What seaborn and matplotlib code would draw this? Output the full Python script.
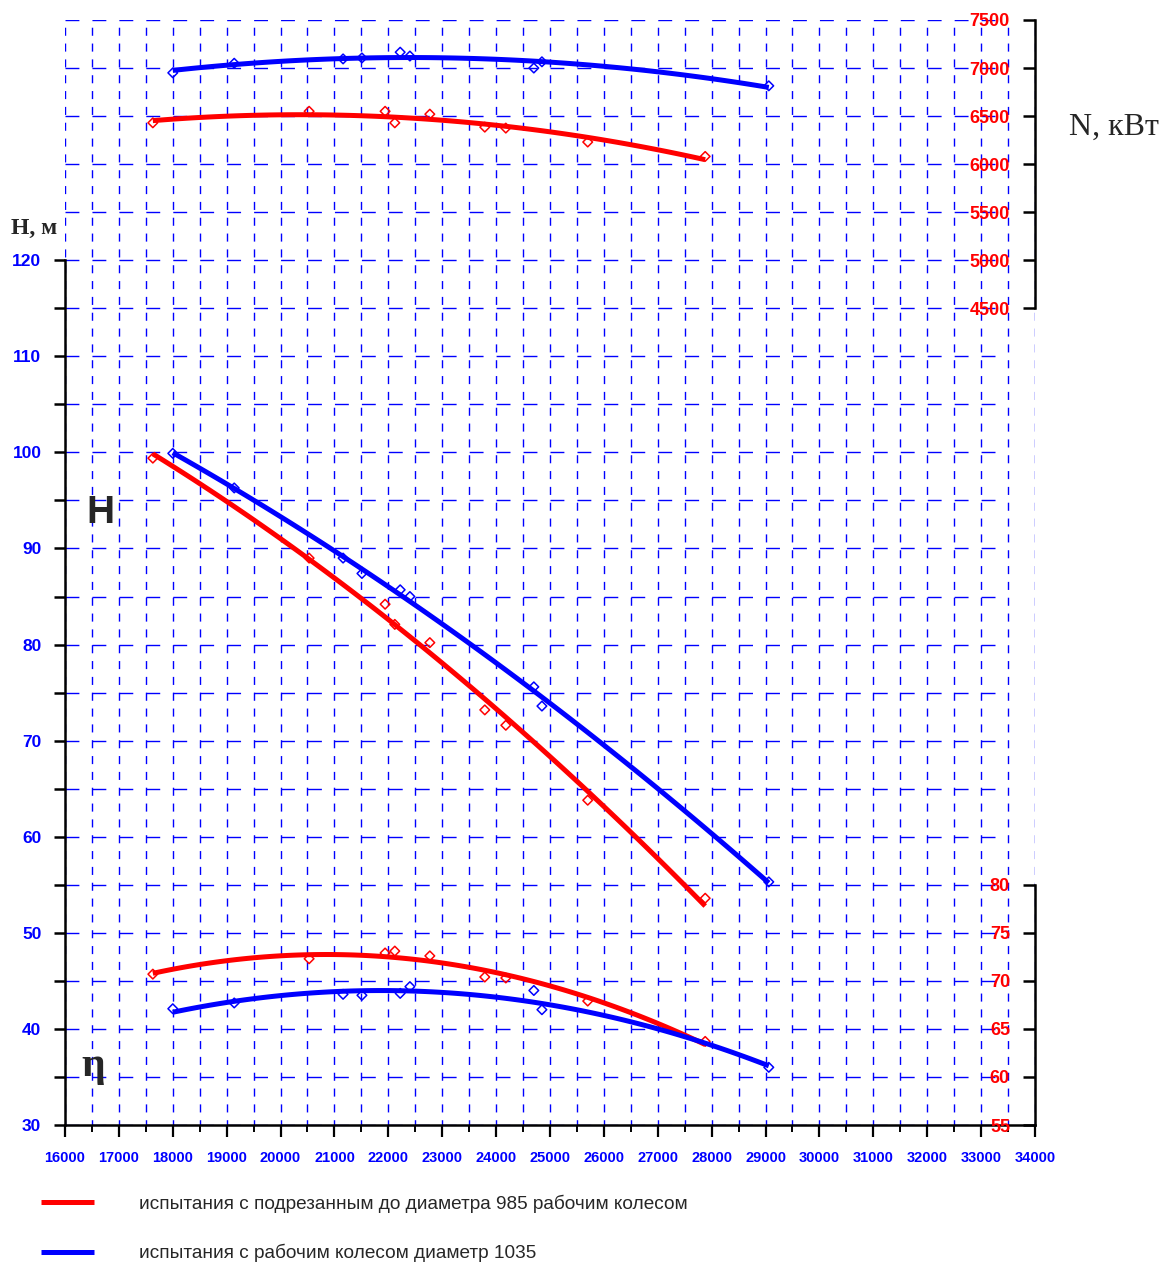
import numpy as np
import pandas as pd
import matplotlib
matplotlib.use("Agg")
import matplotlib.pyplot as plt
import seaborn as sns
from matplotlib.ticker import MultipleLocator

# ---------------- data ----------------
q_985 = [17630, 20530, 21940, 22120, 22770, 23790, 24180, 25700, 27880]
h_985 = [99.4, 89.0, 84.2, 82.1, 80.2, 73.2, 71.6, 63.8, 53.6]
n_985 = [6430, 6550, 6550, 6430, 6520, 6385, 6375, 6230, 6080]
eta_985 = [70.7, 72.3, 72.9, 73.1, 72.6, 70.4, 70.3, 67.9, 63.7]

q_1035 = [18000, 19140, 21160, 21510, 22220, 22400, 24700, 24850, 29060]
h_1035 = [99.9, 96.3, 89.0, 87.4, 85.7, 85.0, 75.6, 73.6, 55.3]
n_1035 = [6950, 7050, 7095, 7105, 7165, 7125, 7000, 7065, 6815]
eta_1035 = [67.1, 67.7, 68.6, 68.5, 68.7, 69.4, 69.0, 67.0, 61.0]

x_ticks = list(range(16000, 34001, 1000))
h_ticks = list(range(30, 121, 10))
n_ticks = list(range(4500, 7501, 500))
eta_ticks = list(range(55, 81, 5))

label_985 = "испытания с подрезанным до диаметра 985 рабочим колесом"
label_1035 = "испытания с рабочим колесом диаметр 1035"

# ---------------- style ----------------
sns.set_style("white")
plt.rcParams["font.family"] = ["Liberation Sans", "DejaVu Sans"]
plt.rcParams["lines.scale_dashes"] = False

W, H = 1163, 1265
fig = plt.figure(figsize=(W / 100, H / 100), dpi=100)
rect = [65 / W, 1 - 1125 / H, 970 / W, 1105 / H]

XLIM = (16000, 34000)
YLIM = (30, 145)

# background grid: vertical lines (full width)
ax_bgx = fig.add_axes(rect)
ax_bgx.set_xlim(*XLIM)
ax_bgx.set_ylim(*YLIM)
ax_bgx.xaxis.set_major_locator(MultipleLocator(500))
ax_bgx.tick_params(length=0, labelleft=False, labelbottom=False)
for s in ax_bgx.spines.values():
    s.set_visible(False)
ax_bgx.grid(axis="x", color="blue", lw=1.0, linestyle=(2, (5.8, 5.6)))

# background grid: horizontal lines (end at 33500)
HX = (16000, 33500)
rect_h = [rect[0], rect[1], rect[2] * (HX[1] - HX[0]) / (XLIM[1] - XLIM[0]), rect[3]]
ax_bgy = fig.add_axes(rect_h)
ax_bgy.patch.set_alpha(0)
ax_bgy.set_xlim(*HX)
ax_bgy.set_ylim(*YLIM)
ax_bgy.yaxis.set_major_locator(MultipleLocator(5))
ax_bgy.tick_params(length=0, labelleft=False, labelbottom=False)
for s in ax_bgy.spines.values():
    s.set_visible(False)
ax_bgy.grid(axis="y", color="blue", lw=1.0, linestyle=(0, (10.0, 9.4)))

RED = "#ff0000"
BLUE = "#0000ff"
LW = 3.6


def fit(axis, x, y, color, order=2):
    sns.regplot(
        x=np.array(x, dtype=float), y=np.array(y, dtype=float), ax=axis,
        order=order, ci=None, truncate=True, marker="D",
        scatter_kws=dict(s=24, facecolors="none", edgecolors=color,
                         linewidths=1.1, alpha=1, zorder=3),
        line_kws=dict(color=color, lw=LW, solid_capstyle="butt", zorder=4),
    )


# H axes (left)
ax = fig.add_axes(rect)
ax.patch.set_alpha(0)
fit(ax, q_985, h_985, RED, 2)
fit(ax, q_1035, h_1035, BLUE, 2)
ax.set_xlim(*XLIM)
ax.set_ylim(*YLIM)
ax.set_xlabel("")
ax.set_ylabel("")
for side in ("top", "right"):
    ax.spines[side].set_visible(False)
ax.spines["left"].set_bounds(30, 120)
ax.spines["left"].set_linewidth(1.8)
ax.spines["bottom"].set_linewidth(1.8)
ax.spines["left"].set_color("black")
ax.spines["bottom"].set_color("black")
ax.set_yticks(h_ticks)
ax.set_yticks(list(range(35, 120, 10)), minor=True)
ax.tick_params(axis="y", which="both", left=True, length=8, width=1.8, color="black",
               direction="out", labelcolor="blue", labelsize=12.5, pad=9)
ax.set_xticks(x_ticks)
ax.xaxis.set_minor_locator(MultipleLocator(500))
ax.tick_params(axis="x", which="major", bottom=True, length=8.6, width=1.6, color="black",
               direction="out", labelcolor="blue", labelsize=10.5, pad=10)
ax.tick_params(axis="x", which="minor", bottom=True, length=5, width=1.4, color="black",
               direction="out")
for lbl in ax.get_yticklabels() + ax.get_xticklabels():
    lbl.set_fontweight("bold")

# N axes (right, top)
axN = ax.twinx()
fit(axN, q_985, n_985, RED, 2)
fit(axN, q_1035, n_1035, BLUE, 2)
axN.set_ylim(4500 + (YLIM[0] - 115) * 100, 4500 + (YLIM[1] - 115) * 100)
for side in ("top", "left", "bottom"):
    axN.spines[side].set_visible(False)
axN.spines["right"].set_bounds(4500, 7500)
axN.spines["right"].set_linewidth(1.8)
axN.spines["right"].set_color("black")
axN.set_yticks(n_ticks)
axN.tick_params(axis="y", right=True, direction="in", length=8.6, width=1.8, color="black",
                labelcolor="red", labelsize=13, pad=-18)
for lbl in axN.get_yticklabels():
    lbl.set_fontweight("bold")
    lbl.set_horizontalalignment("right")
axN.set_ylabel("")

# eta axes (right, bottom)
axE = ax.twinx()
fit(axE, q_985, eta_985, RED, 2)
fit(axE, q_1035, eta_1035, BLUE, 2)
axE.set_ylim(YLIM[0] + 25, YLIM[1] + 25)
for side in ("top", "left", "bottom"):
    axE.spines[side].set_visible(False)
axE.spines["right"].set_bounds(55, 80)
axE.spines["right"].set_linewidth(1.8)
axE.spines["right"].set_color("black")
axE.set_yticks(eta_ticks)
axE.tick_params(axis="y", right=True, direction="in", length=8.6, width=1.8, color="black",
                labelcolor="red", labelsize=13, pad=-18)
for lbl in axE.get_yticklabels():
    lbl.set_fontweight("bold")
    lbl.set_horizontalalignment("right")
axE.set_ylabel("")

ax.set_xlim(*XLIM)

# annotations
fig.text(11 / W, 1 - 228 / H, "H, м", family=["Liberation Serif"], fontweight="bold",
         fontsize=17, va="center", ha="left")
fig.text(1069 / W, 1 - 127 / H, "N, кВт", family=["Liberation Serif"], fontsize=23,
         va="center", ha="left")
fig.text(100 / W, 1 - 513 / H, "H", fontweight="bold", fontsize=28, va="center", ha="center")
fig.text(93 / W, 1 - 1066 / H, "η", family=["Liberation Serif", "DejaVu Serif"],
         fontweight="bold", fontsize=30, va="center", ha="center")

# legend
fig.legend(handles=[ax.lines[0], ax.lines[1]], labels=[label_985, label_1035],
           loc="upper left", bbox_to_anchor=(28 / W, 1 - 1181 / H), frameon=False,
           prop=dict(family=["Liberation Sans"], size=13.7),
           handlelength=2.75, handletextpad=2.4, labelspacing=1.65, borderaxespad=0.3)

fig.savefig("out.png", dpi=100)
